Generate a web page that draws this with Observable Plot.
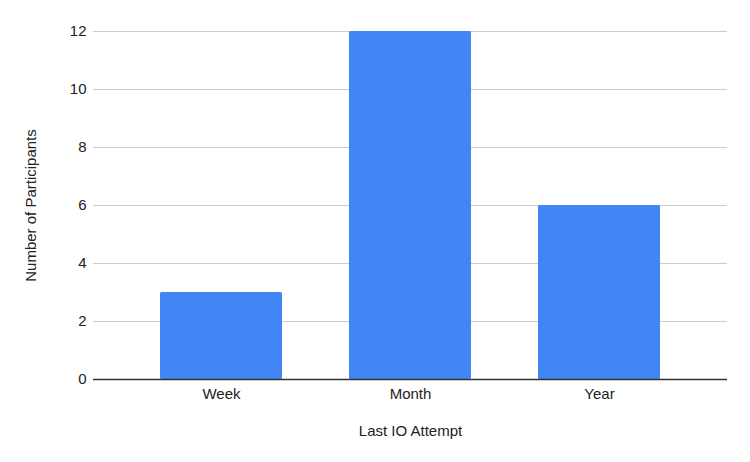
<!DOCTYPE html>
<html>
<head>
<meta charset="utf-8">
<script src="https://cdn.jsdelivr.net/npm/d3@7"></script>
<script src="https://cdn.jsdelivr.net/npm/@observablehq/plot@0.6"></script>
<style>
  html, body { margin: 0; padding: 0; background: #fff; }
</style>
</head>
<body>
<div id="chart"></div>
<script>
const categories = ["Week", "Month", "Year"];
const participants = [3, 12, 6];
const yTicks = [0, 2, 4, 6, 8, 10, 12];
const xLabel = "Last IO Attempt";
const yLabel = "Number of Participants";

const data = categories.map((c, i) => ({category: c, value: participants[i]}));

const chart = Plot.plot({
  width: 750,
  height: 462,
  marginLeft: 93,
  marginRight: 23,
  marginTop: 31,
  marginBottom: 83,
  style: {fontFamily: "'Liberation Sans', Arial, sans-serif", fontSize: "15px", color: "#222", background: "#fff"},
  x: {domain: categories, padding: 0.354, label: null},
  y: {domain: [0, 12], label: null},
  marks: [
    Plot.ruleY(yTicks.filter(d => d !== 0), {stroke: "#cccccc", strokeWidth: 1}),
    Plot.barY(data, {x: "category", y: "value", fill: "#4285F4", rx: 1.5}),
    Plot.ruleY([0], {stroke: "#333333", strokeWidth: 1.3}),
    Plot.axisY({ticks: yTicks, tickSize: 0, tickPadding: 7, label: yLabel, labelAnchor: "center", labelArrow: "none", labelOffset: 68, fontSize: 15}),
    Plot.axisX({tickSize: 0, tickPadding: 9, label: xLabel, labelAnchor: "center", labelArrow: "none", labelOffset: 56, fontSize: 15})
  ]
});
document.getElementById("chart").appendChild(chart);
</script>
</body>
</html>
